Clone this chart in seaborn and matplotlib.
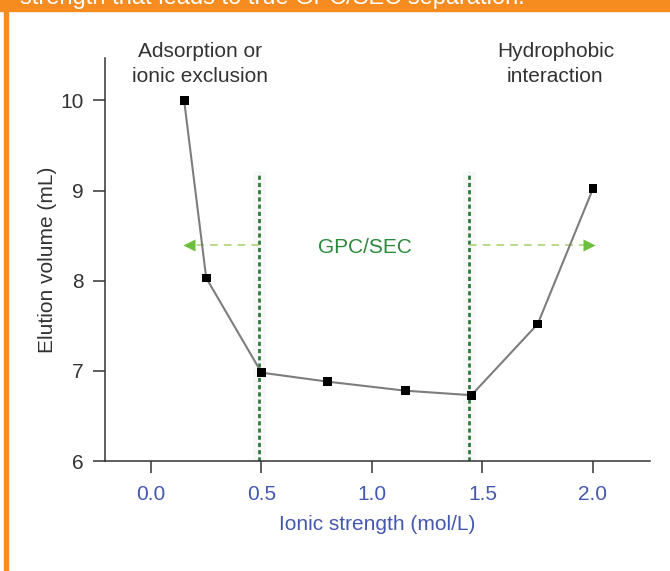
import matplotlib
matplotlib.use("Agg")
import matplotlib.pyplot as plt
import seaborn as sns
import pandas as pd
from matplotlib.patches import Rectangle

# ---- data ----
ionic_strength = [0.15, 0.25, 0.50, 0.80, 1.15, 1.45, 1.75, 2.00]
elution_volume = [10.00, 8.03, 6.98, 6.88, 6.78, 6.73, 7.52, 9.02]
x_ticks = [0.0, 0.5, 1.0, 1.5, 2.0]
x_tick_labels = ["0.0", "0.5", "1.0", "1.5", "2.0"]
y_ticks = [6, 7, 8, 9, 10]
gpc_bounds = [0.49, 1.44]
gpc_bound_top = 9.2
arrow_y = 8.4
arrow_ends = [0.17, 1.98]
region_labels = ["Adsorption or\nionic exclusion", "GPC/SEC", "Hydrophobic\ninteraction"]
header_text = "strength that leads to true GPC/SEC separation."

df = pd.DataFrame({"Ionic strength (mol/L)": ionic_strength,
                   "Elution volume (mL)": elution_volume})

sns.set_style("white")
plt.rcParams["font.family"] = ["Liberation Sans", "DejaVu Sans"]

W, H = 670, 571
fig = plt.figure(figsize=(W / 100, H / 100), dpi=100)
ax = fig.add_axes([105 / W, (H - 461) / H, (650 - 105) / W, (461 - 58) / H])

# faint bands behind GPC bounds
for xb in gpc_bounds:
    ax.axvspan(xb - 0.03, xb + 0.03, ymin=0, ymax=(gpc_bound_top - 6) / (10.47 - 6),
               color="#f8f8f8", lw=0, zorder=0)

ax.vlines(gpc_bounds, 6, gpc_bound_top, colors="#2f7d3c", lw=2.0,
          linestyles=[(0, (1.5, 1.1))], zorder=2)

# arrows
arrow_green = "#a6d06a"
head_green = "#6cbf3a"
ax.plot([gpc_bounds[0], arrow_ends[0]], [arrow_y, arrow_y], color=arrow_green,
        lw=1.1, ls=(0, (5, 4)), zorder=2)
ax.plot([gpc_bounds[1], arrow_ends[1]], [arrow_y, arrow_y], color=arrow_green,
        lw=1.1, ls=(0, (5, 4)), zorder=2)
ax.plot([arrow_ends[0]], [arrow_y], marker="<", ms=8, color=head_green, mec="none", zorder=3)
ax.plot([arrow_ends[1]], [arrow_y], marker=">", ms=8, color=head_green, mec="none", zorder=3)

sns.lineplot(data=df, x="Ionic strength (mol/L)", y="Elution volume (mL)", ax=ax,
             color="#7d7d7d", lw=1.5, zorder=4)
sns.scatterplot(data=df, x="Ionic strength (mol/L)", y="Elution volume (mL)", ax=ax,
                marker="s", s=40, color="black", edgecolor="none", zorder=5)

ax.set_xlim(-0.208, 2.258)
ax.set_ylim(6, 10.47)
ax.set_xticks(x_ticks)
ax.set_xticklabels(x_tick_labels)
ax.set_yticks(y_ticks)

blue = "#4558b0"
ax.tick_params(axis="both", direction="out", length=8.5, width=1.1, color="#333333",
               labelsize=15, pad=7, bottom=True, left=True)
ax.tick_params(axis="x", labelcolor=blue, pad=9)
ax.tick_params(axis="y", labelcolor="#333333")
for s in ["top", "right"]:
    ax.spines[s].set_visible(False)
for s in ["left", "bottom"]:
    ax.spines[s].set_color("#333333")
    ax.spines[s].set_linewidth(1.1)

ax.set_xlabel("Ionic strength (mol/L)", fontsize=15, color=blue, labelpad=8)
ax.set_ylabel("Elution volume (mL)", fontsize=15, color="#333333", labelpad=2)

ax.text(0.22, 10.40, region_labels[0], ha="center", va="center", fontsize=15,
        color="#333333", linespacing=1.4, clip_on=False)
ax.text(0.97, 8.37, region_labels[1], ha="center", va="center", fontsize=15,
        color="#2a8a3a")
ax.text(1.83, 10.40, region_labels[2], ha="center", va="center", fontsize=15,
        color="#333333", linespacing=1.4, clip_on=False)

# orange frame
orange = "#f68b1f"
fig.patches.append(Rectangle((0, 1 - 11 / H), 1, 11 / H, transform=fig.transFigure,
                             color=orange, zorder=0))
fig.patches.append(Rectangle((4 / W, 0), 4 / W, 1, transform=fig.transFigure,
                             color=orange, zorder=0))
fig.text(20 / W, 1 - 4 / H, header_text, color="white", fontsize=17, va="baseline", ha="left")

fig.savefig("out.png", dpi=100)
